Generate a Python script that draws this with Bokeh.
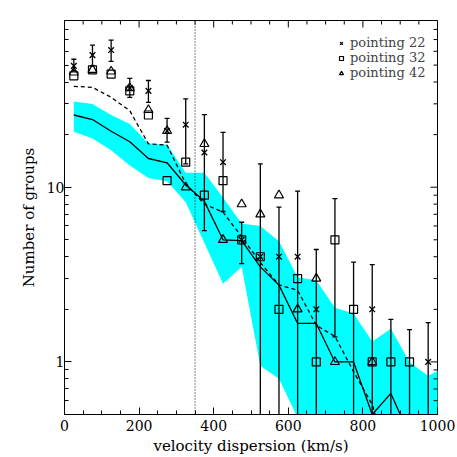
import numpy as np
from bokeh.plotting import figure
from bokeh.models import (FixedTicker, SingleIntervalTicker, Span,
                          Legend, LegendItem, PrintfTickFormatter)
from bokeh.embed import file_html
from bokeh.resources import INLINE

nan = float("nan")

# ---- data ----
bins = [25, 75, 125, 175, 225, 275, 325, 375, 425, 475,
        525, 575, 625, 675, 725, 775, 825, 875, 925, 975]
pointing22 = [49.5, 57, 61, 37, 35.6, 21, 22.8, 15.8, 13.9, 5,
              4, 4, 4, 2, nan, nan, 2, nan, nan, 1]
pointing32 = [43.4, 47, 44.4, 35.6, 25.9, 10.9, 13.9, 9, 10.9, 5,
              4, 2, 3, 1, 5, 2, 1, 1, 1, nan]
pointing42 = [45.4, 47, 46, 37, 27.7, 21, 10, 17.7, 5, 8,
              7, 9, 2, 3, 1, nan, 1, nan, nan, nan]
err_low = [46.4, 49.5, 52.5, 32.7, 30.6, 18.1, 13.6, 5.65, 7.26, 3.65,
           0.3, 0.3, 0.3, 0.3, 1.39, 0.3, 0.3, 0.3, 0.3, 0.3]
err_high = [54, 65, 69.5, 42, 40.8, 24.8, 32.0, 26.0, 20.6, 6.3,
            13.6, 7.7, 9.5, 4.4, 8.6, 3.73, 3.6, 1.75, 1.53, 1.68]

model_bins = [25, 75, 125, 175, 225, 275, 325, 375, 425, 475, 525,
              575, 625, 675, 725, 775, 825, 875, 925, 975, 1025]
model_median = [25.9, 24.4, 20.9, 18.2, 14.6, 13.8, 10.3, 8.3, 5.0, 4.95, 3.5,
                2.75, 1.66, 1.66, 1.0, 1.0, 0.5, 0.66, 0.38, 0.3, 0.3]
model_mean = [37.8, 37.3, 32.7, 27.4, 17.7, 17.4, 10.5, 8.0, 7.2, 5.2, 3.7,
              2.76, 2.57, 1.62, 1.4, 0.88, 0.57, 0.25, 0.2, 0.2, 0.2]
band_high = [30.9, 29.9, 25.9, 23.0, 17.8, 17.5, 12.1, 12.1, 8.7, 6.2, 6.0,
             4.9, 3.05, 2.93, 2.04, 1.89, 1.31, 1.55, 1.0, 0.83, 0.95]
band_low = [20.8, 19.0, 16.3, 13.3, 11.3, 10.8, 8.2, 4.8, 2.8, 3.5, 0.95,
            0.8, 0.48, 0.3, 0.3, 0.3, 0.3, 0.3, 0.3, 0.3, 0.3]
sigma_cut = 350

x_range = (0, 1000)
y_range = (0.5, 90)
x_major = [0, 200, 400, 600, 800, 1000]
x_minor = [50, 100, 150, 250, 300, 350, 450, 500, 550, 650, 700, 750, 850, 900, 950]
y_major = [1, 10]
y_minor = [0.5, 0.6, 0.7, 0.8, 0.9, 2, 3, 4, 5, 6, 7, 8, 9,
           20, 30, 40, 50, 60, 70, 80, 90]
legend_labels = ["pointing 22", "pointing 32", "pointing 42"]
x_title = "velocity dispersion (km/s)"
y_title = "Number of groups"

FONT = "DejaVu Serif"

p = figure(width=457, height=457, x_range=x_range, y_range=y_range,
           y_axis_type="log", output_backend="svg", toolbar_location=None,
           min_border_left=64, min_border_right=20, min_border_top=20,
           min_border_bottom=42)
p.grid.visible = False
p.outline_line_color = "black"
p.outline_line_width = 1
p.background_fill_color = "white"
p.border_fill_color = "white"

xaxis = p.xaxis[0]
yaxis = p.yaxis[0]
xaxis.ticker = SingleIntervalTicker(interval=200, num_minor_ticks=4)
yaxis.ticker = FixedTicker(ticks=y_major, minor_ticks=y_minor)
yaxis.formatter = PrintfTickFormatter(format="%d")
xaxis.axis_label = x_title
yaxis.axis_label = y_title

for ax in [xaxis, yaxis]:
    ax.major_tick_in = 7
    ax.major_tick_out = 0
    ax.minor_tick_in = 4
    ax.minor_tick_out = 0
    ax.axis_line_color = "black"
    ax.major_tick_line_color = "black"
    ax.minor_tick_line_color = "black"
    ax.major_label_text_font = FONT
    ax.major_label_text_font_size = "14px"
    ax.major_label_text_color = "black"
    ax.axis_label_text_font = FONT
    ax.axis_label_text_font_size = "15px"
    ax.axis_label_text_font_style = "normal"
    ax.axis_label_text_color = "black"

xaxis.major_label_standoff = 5
xaxis.axis_label_standoff = 3
yaxis.major_label_standoff = 0
yaxis.axis_label_standoff = 6

# cyan band
p.varea(x=model_bins, y1=band_low, y2=band_high, fill_color="#00ffff", fill_alpha=1.0)

# dotted vertical line
p.add_layout(Span(location=sigma_cut, dimension="height", line_color="black",
                  line_width=1, line_dash="1 2"))

# model lines
p.line(model_bins, model_mean, line_color="black", line_width=1.3, line_dash="4 3")
p.line(model_bins, model_median, line_color="black", line_width=1.3)

# error bars
p.segment(x0=bins, y0=err_low, x1=bins, y1=err_high, line_color="black", line_width=1.3)
p.scatter(bins, err_high, marker="dash", size=5, line_color="black", line_width=1.3)
p.scatter(bins, err_low, marker="dash", size=5, line_color="black", line_width=1.3)

# data points
r22 = p.scatter(np.array(bins, dtype=float), np.array(pointing22, dtype=float),
                marker="x", size=8, line_color="black", line_width=1.3)
r32 = p.scatter(np.array(bins, dtype=float), np.array(pointing32, dtype=float),
                marker="square", size=8, line_color="black", fill_color=None, line_width=1.2)
r42 = p.scatter(np.array(bins, dtype=float), np.array(pointing42, dtype=float),
                marker="triangle", size=9, line_color="black", fill_color=None, line_width=1.2)

# mirrored inward ticks on the top and right frame edges (clipped to the frame)
top_y = y_range[1]
right_x = x_range[1]
p.scatter(x_major, [top_y] * len(x_major), marker="dash", angle=np.pi / 2, size=14,
          line_color="black", line_width=1)
p.scatter(x_minor, [top_y] * len(x_minor), marker="dash", angle=np.pi / 2, size=8,
          line_color="black", line_width=1)
p.scatter([right_x] * len(y_major), y_major, marker="dash", size=14,
          line_color="black", line_width=1)
p.scatter([right_x] * len(y_minor), y_minor, marker="dash", size=8,
          line_color="black", line_width=1)

legend = Legend(items=[LegendItem(label=legend_labels[0], renderers=[r22]),
                       LegendItem(label=legend_labels[1], renderers=[r32]),
                       LegendItem(label=legend_labels[2], renderers=[r42])],
                location=(272, 334), label_text_font=FONT, label_text_font_size="13px",
                background_fill_alpha=0, border_line_alpha=0,
                glyph_width=10, glyph_height=12, label_height=12, label_standoff=4,
                spacing=0, padding=0, margin=0)
p.add_layout(legend)

open("out.html", "w").write(file_html(p, INLINE))
